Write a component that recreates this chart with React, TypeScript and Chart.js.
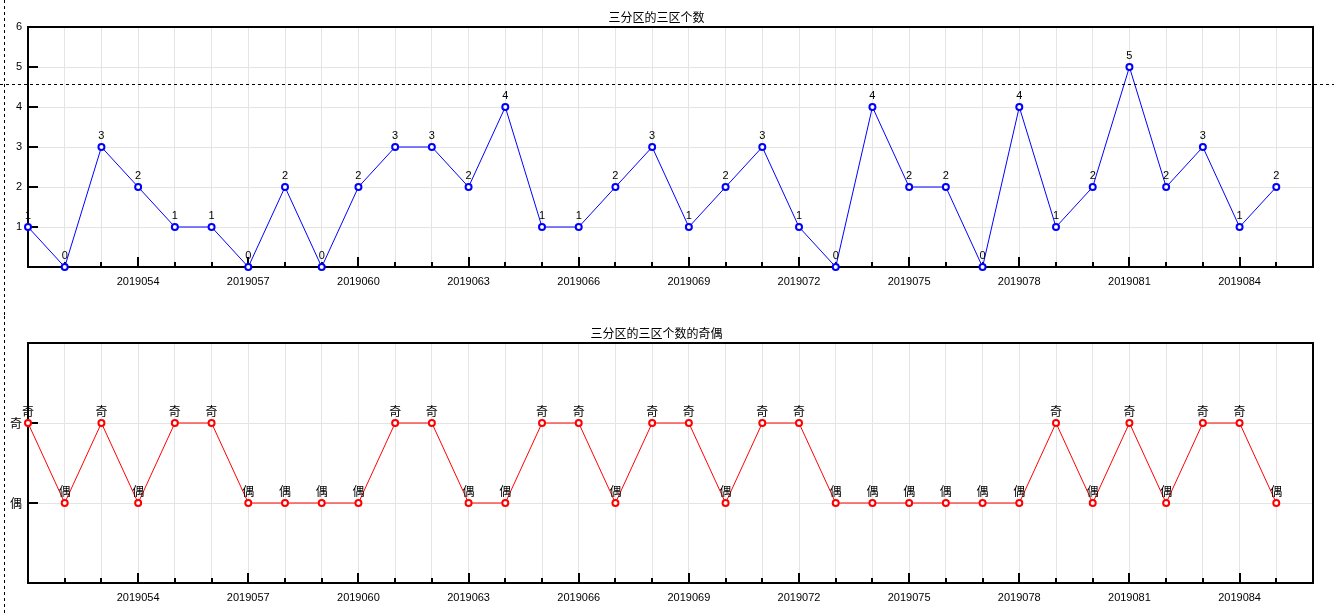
import React, { useEffect, useRef } from 'react';
import { Chart, registerables } from 'chart.js';

Chart.register(...registerables);

// ---------- data ----------
const periods = [
  '2019051', '2019052', '2019053', '2019054', '2019055', '2019056', '2019057',
  '2019058', '2019059', '2019060', '2019061', '2019062', '2019063', '2019064',
  '2019065', '2019066', '2019067', '2019068', '2019069', '2019070', '2019071',
  '2019072', '2019073', '2019074', '2019075', '2019076', '2019077', '2019078',
  '2019079', '2019080', '2019081', '2019082', '2019083', '2019084', '2019085',
];
const labeledPeriods = [
  '2019054', '2019057', '2019060', '2019063', '2019066', '2019069',
  '2019072', '2019075', '2019078', '2019081', '2019084',
];
const zoneCounts = [
  1, 0, 3, 2, 1, 1, 0, 2, 0, 2, 3, 3, 2, 4, 1, 1, 2, 3, 1, 2, 3, 1, 0, 4, 2, 2, 0, 4, 1, 2, 5, 2, 3, 1, 2,
];
const parityValues = [
  1, 0, 1, 0, 1, 1, 0, 0, 0, 0, 1, 1, 0, 0, 1, 1, 0, 1, 1, 0, 1, 1, 0, 0, 0, 0, 0, 0, 1, 0, 1, 0, 1, 1, 0,
];
const parityNames: Record<number, string> = { 1: '奇', 0: '偶' };
const topTitle = '三分区的三区个数';
const bottomTitle = '三分区的三区个数的奇偶';
const topYTickValues = [1, 2, 3, 4, 5, 6];
const bottomYTickValues = [0, 1];
const cursorValue = 4.575; // crosshair position in the top panel (value units)

const FONT = "'Liberation Sans', 'Noto Sans CJK SC', sans-serif";
const CJK_FONT = "'Noto Sans CJK SC', 'Liberation Sans', sans-serif";

type PanelProps = {
  height: number;
  title: string;
  values: number[];
  color: string;
  yMin: number;
  yMax: number;
  yTickValues: number[];
  yLabel: (v: number) => string;
  pointLabel: (v: number) => string;
  pointLabelFont: string;
  pointLabelOffset: number;
  yTickFont: string;
  yTickSize: number;
  cursor?: number;
};

function Panel(p: PanelProps) {
  const ref = useRef<HTMLCanvasElement | null>(null);
  useEffect(() => {
    const canvas = ref.current;
    if (!canvas) return;
    const slotCount = periods.length; // x axis runs to one slot past the last period
    const plotBottom = 267;
    const decor = {
      id: 'decor',
      beforeDatasetsDraw(chart: any) {
        const { ctx, chartArea: a, scales } = chart;
        const x = scales.x;
        const y = scales.y;
        ctx.save();
        ctx.strokeStyle = '#000';
        ctx.lineWidth = 2;
        ctx.beginPath();
        for (let i = 1; i < slotCount; i++) {
          const px = Math.round(x.getPixelForValue(i));
          const major = labeledPeriods.includes(periods[i]);
          ctx.moveTo(px, a.bottom);
          ctx.lineTo(px, a.bottom - (major ? 10 : 5));
        }
        p.yTickValues.forEach((v) => {
          const py = Math.round(y.getPixelForValue(v));
          ctx.moveTo(a.left, py);
          ctx.lineTo(a.left + 10, py);
        });
        ctx.stroke();
        ctx.lineWidth = 2;
        ctx.strokeRect(a.left, a.top, a.right - a.left, a.bottom - a.top);
        ctx.restore();
      },
      afterDatasetsDraw(chart: any) {
        const { ctx } = chart;
        const meta = chart.getDatasetMeta(0);
        ctx.save();
        ctx.fillStyle = '#000';
        ctx.font = p.pointLabelFont;
        ctx.textAlign = 'center';
        ctx.textBaseline = 'alphabetic';
        meta.data.forEach((pt: any, i: number) => {
          ctx.fillText(p.pointLabel(p.values[i]), pt.x, pt.y - p.pointLabelOffset);
        });
        ctx.restore();
      },
      afterDraw(chart: any) {
        const { ctx, width, height, scales } = chart;
        ctx.save();
        ctx.strokeStyle = '#000';
        ctx.lineWidth = 1;
        ctx.setLineDash([3, 3]);
        ctx.beginPath();
        ctx.moveTo(4.5, 0);
        ctx.lineTo(4.5, height);
        if (p.cursor !== undefined) {
          const py = Math.round(scales.y.getPixelForValue(p.cursor)) + 0.5;
          ctx.moveTo(0, py);
          ctx.lineTo(width, py);
        }
        ctx.stroke();
        ctx.restore();
      },
    };

    const chart = new Chart(canvas, {
      type: 'line',
      data: {
        datasets: [
          {
            data: p.values.map((v, i) => ({ x: i, y: v })),
            borderColor: p.color,
            borderWidth: 1,
            pointBorderColor: p.color,
            pointBackgroundColor: '#ffffff',
            pointBorderWidth: 2,
            pointRadius: 3,
            pointStyle: 'circle',
            tension: 0,
            clip: false as any,
          },
        ],
      },
      options: {
        responsive: false,
        animation: false,
        devicePixelRatio: 1,
        layout: { padding: { left: 0, right: 21, top: 0, bottom: 0 } },
        plugins: {
          legend: { display: false },
          tooltip: { enabled: false },
          title: {
            display: true,
            text: p.title,
            color: '#000',
            font: { family: CJK_FONT, size: 12, weight: 'normal', lineHeight: '14px' } as any,
            padding: { top: 10, bottom: 3 },
          },
        },
        scales: {
          x: {
            type: 'linear',
            min: 0,
            max: slotCount,
            afterFit: (s: any) => {
              s.height = p.height - plotBottom;
            },
            border: { display: false },
            grid: { color: '#e4e4e4', lineWidth: 1, drawTicks: false },
            ticks: {
              stepSize: 1,
              autoSkip: false,
              maxRotation: 0,
              padding: 8,
              color: '#000',
              font: { family: FONT, size: 11 },
              callback: (v: any) => {
                const name = periods[v as number];
                return name && labeledPeriods.includes(name) ? name : '';
              },
            },
          },
          y: {
            type: 'linear',
            min: p.yMin,
            max: p.yMax,
            afterFit: (s: any) => {
              s.width = 28;
            },
            border: { display: false },
            grid: { color: '#e4e4e4', lineWidth: 1, drawTicks: false },
            ticks: {
              stepSize: 1,
              padding: 6,
              color: '#000',
              font: { family: p.yTickFont, size: p.yTickSize },
              callback: (v: any) => p.yLabel(v as number),
            },
          },
        },
      },
      plugins: [decor],
    } as any);
    return () => chart.destroy();
  }, []);
  return <canvas ref={ref} width={1334} height={p.height} style={{ display: 'block' }} />;
}

export default function App() {
  return (
    <div style={{ position: 'absolute', left: 0, top: 0, width: 1334, height: 616, background: '#fff' }}>
      <Panel
        height={316}
        title={topTitle}
        values={zoneCounts}
        color="#0000ff"
        yMin={0}
        yMax={6}
        yTickValues={topYTickValues.filter((v) => v < 6)}
        yLabel={(v) => (topYTickValues.includes(v) ? String(v) : '')}
        pointLabel={(v) => String(v)}
        pointLabelFont={`11px ${FONT}`}
        pointLabelOffset={8}
        yTickFont={FONT}
        yTickSize={11}
        cursor={cursorValue}
      />
      <Panel
        height={300}
        title={bottomTitle}
        values={parityValues}
        color="#ff0000"
        yMin={-1}
        yMax={2}
        yTickValues={bottomYTickValues}
        yLabel={(v) => (bottomYTickValues.includes(v) ? parityNames[v] : '')}
        pointLabel={(v) => parityNames[v]}
        pointLabelFont={`12px ${CJK_FONT}`}
        pointLabelOffset={7}
        yTickFont={CJK_FONT}
        yTickSize={12}
      />
    </div>
  );
}
